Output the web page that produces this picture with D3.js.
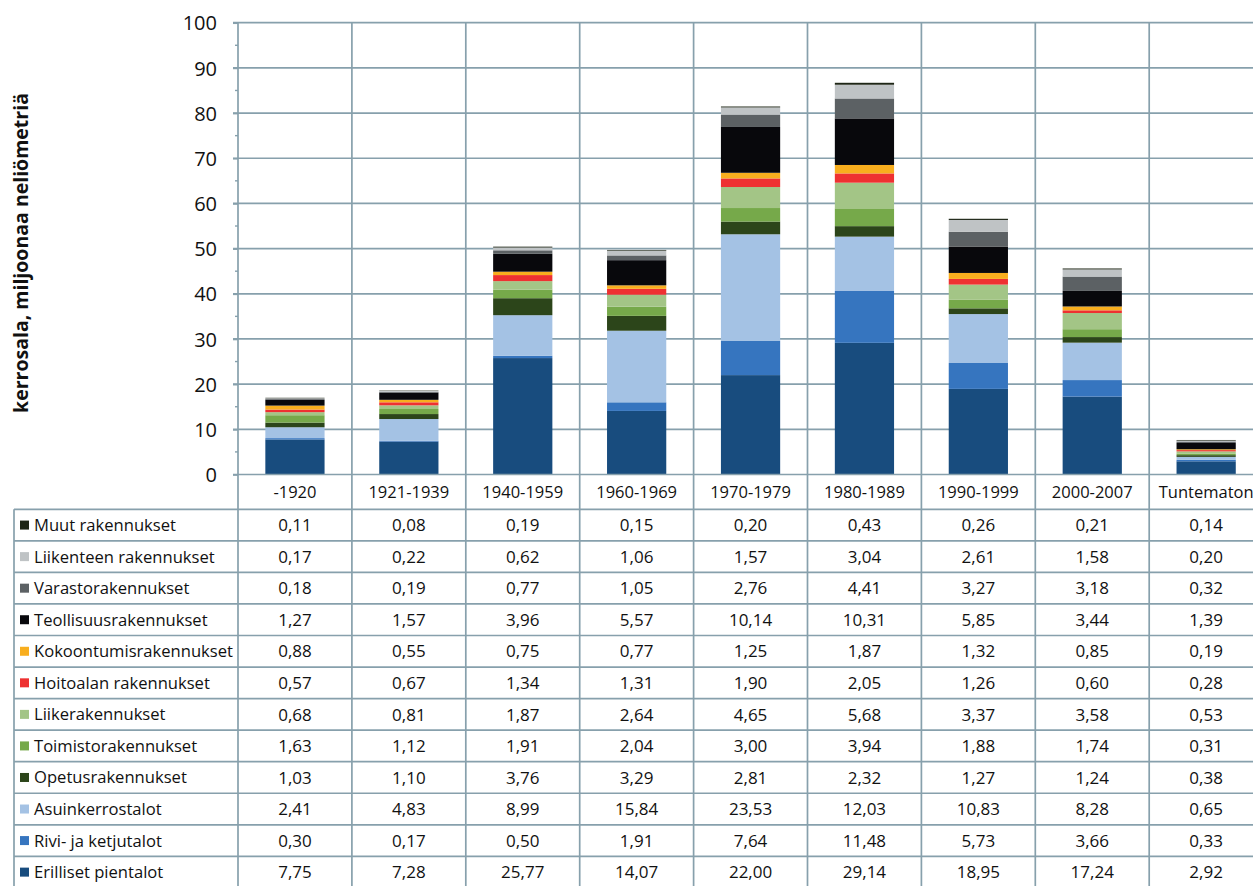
<!DOCTYPE html>
<html><head><meta charset="utf-8">
<script src="https://cdn.jsdelivr.net/npm/d3@7"></script>
<style>
html,body{margin:0;padding:0;background:#fff;overflow:hidden}
text{font-family:"Open Sans","Noto Sans",sans-serif;fill:#111}
</style></head>
<body><svg id="c" width="1253" height="886"></svg>
<script>
const categories = ["-1920","1921-1939","1940-1959","1960-1969","1970-1979","1980-1989","1990-1999","2000-2007","Tuntematon"];
// series in table order (top row first)
const seriesNames = ["Muut rakennukset","Liikenteen rakennukset","Varastorakennukset","Teollisuusrakennukset","Kokoontumisrakennukset","Hoitoalan rakennukset","Liikerakennukset","Toimistorakennukset","Opetusrakennukset","Asuinkerrostalot","Rivi- ja ketjutalot","Erilliset pientalot"];
const seriesColors = ["#1e2616","#bfc3c5","#5c6164","#08080c","#f8ae1e","#ee3131","#a3c586","#76a94a","#2c451a","#a4c2e4","#3675bf","#184c7e"];
const muut       = [0.11,0.08,0.19,0.15,0.20,0.43,0.26,0.21,0.14];
const liikenteen = [0.17,0.22,0.62,1.06,1.57,3.04,2.61,1.58,0.20];
const varasto    = [0.18,0.19,0.77,1.05,2.76,4.41,3.27,3.18,0.32];
const teollisuus = [1.27,1.57,3.96,5.57,10.14,10.31,5.85,3.44,1.39];
const kokoontumis= [0.88,0.55,0.75,0.77,1.25,1.87,1.32,0.85,0.19];
const hoitoalan  = [0.57,0.67,1.34,1.31,1.90,2.05,1.26,0.60,0.28];
const liike      = [0.68,0.81,1.87,2.64,4.65,5.68,3.37,3.58,0.53];
const toimisto   = [1.63,1.12,1.91,2.04,3.00,3.94,1.88,1.74,0.31];
const opetus     = [1.03,1.10,3.76,3.29,2.81,2.32,1.27,1.24,0.38];
const asuinkerros= [2.41,4.83,8.99,15.84,23.53,12.03,10.83,8.28,0.65];
const rivi       = [0.30,0.17,0.50,1.91,7.64,11.48,5.73,3.66,0.33];
const erilliset  = [7.75,7.28,25.77,14.07,22.00,29.14,18.95,17.24,2.92];
const yTicks = [0,10,20,30,40,50,60,70,80,90,100];
const yLabel = "kerrosala, miljoonaa neliömetriä";

const seriesValues = [muut,liikenteen,varasto,teollisuus,kokoontumis,hoitoalan,liike,toimisto,opetus,asuinkerros,rivi,erilliset];

const svg = d3.select("#c");
const x0 = 238, colW = 113.9;
const x = d3.scaleBand().domain(categories).range([x0, x0 + colW*categories.length]).paddingInner(0.48).paddingOuter(0.24);
const xc = d3.scaleBand().domain(categories).range([x0, x0 + colW*categories.length]);
const y = d3.scaleLinear().domain([0,100]).range([474.5, 22.7]);
const gridCol = "#87a0ac";

const rows = categories.map((c,i) => {
  const o = {cat:c};
  seriesNames.forEach((s,j) => o[s] = seriesValues[j][i]);
  return o;
});
const stackKeys = seriesNames.slice().reverse();
const stacked = d3.stack().keys(stackKeys)(rows);
const color = d3.scaleOrdinal().domain(seriesNames).range(seriesColors);

// horizontal gridlines
svg.append("g").selectAll("line").data(yTicks.filter(d=>d>0)).join("line")
  .attr("x1", x0-5).attr("x2", 1253).attr("y1", d=>y(d)).attr("y2", d=>y(d))
  .attr("stroke", gridCol).attr("stroke-width", 1.7);

// y axis
const yAxis = d3.axisLeft(y).tickValues(yTicks).tickSize(5).tickPadding(16);
const ga = svg.append("g").attr("transform", `translate(${x0},0)`).call(yAxis);
ga.select(".domain").remove();
ga.selectAll(".tick line").attr("stroke", gridCol).attr("stroke-width",1.7);
ga.selectAll(".tick text").style("font-size","20px").attr("font-family",null).attr("dy","0.36em").style("fill","#111");
// minor ticks
svg.append("g").selectAll("line").data(d3.range(5,100,10)).join("line")
  .attr("x1", x0-3).attr("x2", x0).attr("y1", d=>y(d)).attr("y2", d=>y(d))
  .attr("stroke", gridCol).attr("stroke-width",1.4);

// bars
svg.append("g").selectAll("g").data(stacked).join("g")
  .attr("fill", d => color(d.key))
  .selectAll("rect").data(d=>d).join("rect")
  .attr("x", d => x(d.data.cat)).attr("width", x.bandwidth())
  .attr("y", d => y(d[1])).attr("height", d => Math.max(0, y(d[0]) - y(d[1])));

// table
const tTop = 509.3, rowH = 31.55, tLeft = 14;
const tBottom = tTop + rowH*seriesNames.length;
const vlines = categories.map(c => xc(c)).concat([x0 + colW*categories.length]);
svg.append("g").selectAll("line").data(vlines).join("line")
  .attr("x1", d=>d).attr("x2", d=>d).attr("y1", y(100)).attr("y2", tBottom)
  .attr("stroke", gridCol).attr("stroke-width", 1.7);
svg.append("line").attr("x1", x0-5).attr("x2",1253).attr("y1", y(0)).attr("y2", y(0))
  .attr("stroke", gridCol).attr("stroke-width",1.7);
svg.append("g").selectAll("line").data(d3.range(seriesNames.length+1)).join("line")
  .attr("x1", tLeft).attr("x2", 1253).attr("y1", d=>tTop + d*rowH).attr("y2", d=>tTop + d*rowH)
  .attr("stroke", gridCol).attr("stroke-width", 1.7);
svg.append("line").attr("x1", tLeft).attr("x2", tLeft).attr("y1", tTop).attr("y2", tBottom)
  .attr("stroke", gridCol).attr("stroke-width",1.7);

// category labels
svg.append("g").selectAll("text").data(categories).join("text")
  .attr("x", d => xc(d) + colW/2).attr("y", (y(0)+tTop)/2).attr("dy","0.36em")
  .attr("text-anchor","middle").style("font-size","16.5px").text(d=>d);

const fmt = v => d3.format(".2f")(v).replace(".", ",");
const rg = svg.append("g").selectAll("g").data(seriesNames).join("g")
  .attr("transform", (d,i) => `translate(0,${tTop + i*rowH + rowH/2})`);
rg.append("rect").attr("x", 20).attr("y", -4.5).attr("width", 9).attr("height", 9).attr("fill", d=>color(d));
rg.append("text").attr("x", 34).attr("dy","0.36em").style("font-size","16.6px").text(d=>d);
rg.each(function(s, j){
  d3.select(this).selectAll("text.v").data(seriesValues[j]).join("text").attr("class","v")
    .attr("x", (v,i) => xc(categories[i]) + colW/2).attr("dy","0.36em")
    .attr("text-anchor","middle").style("font-size","17px").text(v => fmt(v));
});

// y label
svg.append("text").attr("transform","translate(21,253) rotate(-90)").attr("text-anchor","middle")
  .attr("dy","0.36em").style("font-size","19.5px").style("font-weight","bold").text(yLabel);
</script></body></html>
